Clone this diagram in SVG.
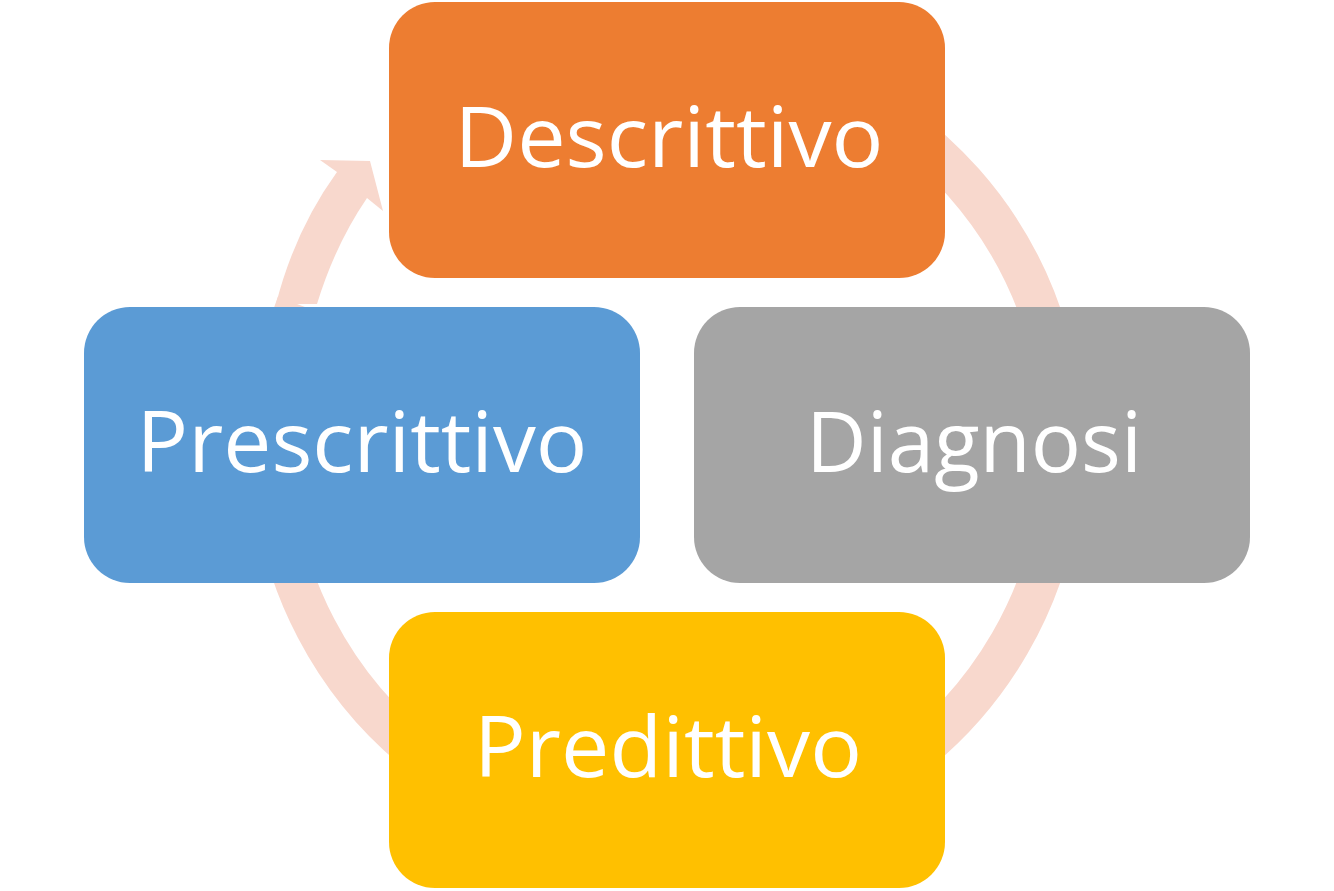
<svg xmlns="http://www.w3.org/2000/svg" width="1334" height="891" viewBox="0 0 1334 891">
<style>
.box{stroke:none}
.t{font-family:"Open Sans","Noto Sans",sans-serif;font-size:84px;fill:#fff;text-anchor:middle}
.ring{fill:none;stroke:#F8D8CD;stroke-width:41}
</style>
<rect width="1334" height="891" fill="#fff"/>
<g id="connectors">
<path class="ring" d="M667 49 A396 396 0 1 1 297 304"/>
<path d="M276 304 Q295 230 337 172 L320 160 L370 161 L383 211 L367 198 Q335 245 317 304 Z" fill="#F8D8CD"/>
</g>
<g id="descrittivo"><rect class="box" x="389" y="2" width="556" height="276" rx="46" fill="#ED7D31"/><text class="t" x="669" y="167" textLength="429" lengthAdjust="spacingAndGlyphs">Descrittivo</text></g>
<g id="diagnosi"><rect class="box" x="694" y="307" width="556" height="276" rx="46" fill="#A5A5A5"/><text class="t" x="974" y="472" textLength="336" lengthAdjust="spacingAndGlyphs">Diagnosi</text></g>
<g id="predittivo"><rect class="box" x="389" y="612" width="556" height="276" rx="46" fill="#FFC000"/><text class="t" x="668" y="777" textLength="388" lengthAdjust="spacingAndGlyphs">Predittivo</text></g>
<g id="prescrittivo"><rect class="box" x="84" y="307" width="556" height="276" rx="46" fill="#5B9BD5"/><text class="t" x="362" y="472" textLength="451" lengthAdjust="spacingAndGlyphs">Prescrittivo</text></g>
</svg>
